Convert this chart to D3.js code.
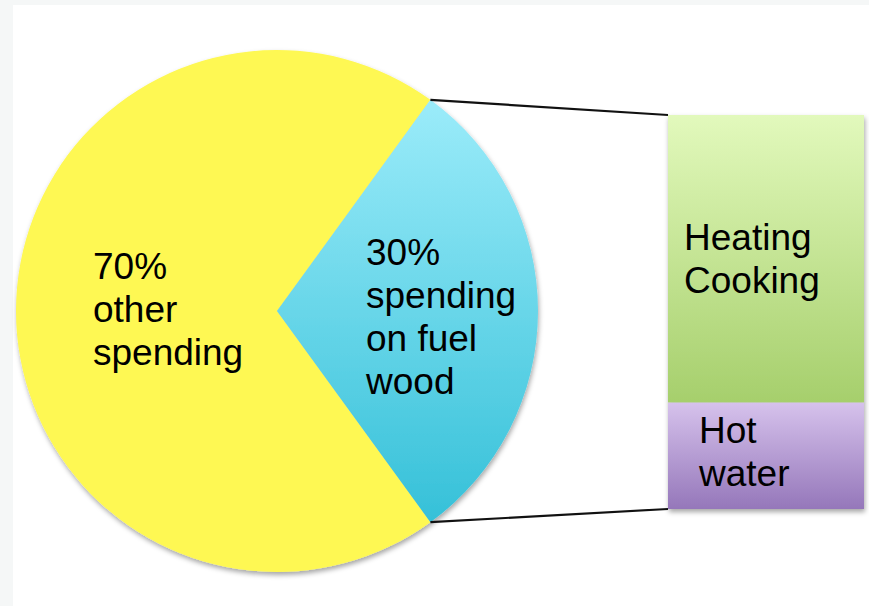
<!DOCTYPE html>
<html>
<head>
<meta charset="utf-8">
<script src="https://cdnjs.cloudflare.com/ajax/libs/d3/7.8.5/d3.min.js"></script>
<style>
html,body{margin:0;padding:0;background:#f5f7f7;}
svg{display:block;}
text{font-family:"Liberation Sans",Arial,sans-serif;fill:#000;}
</style>
</head>
<body>
<script>
// ---- data ----
const pieCategories = ["other spending", "spending on fuel wood"];
const pieValues = [70, 30];
const pieLabelLines = [["70%", "other", "spending"], ["30%", "spending", "on fuel", "wood"]];
const barCategories = ["Heating Cooking", "Hot water"];
const barValues = [73, 27];
const barLabelLines = [["Heating", "Cooking"], ["Hot", "water"]];

const W = 869, H = 606;
const svg = d3.select("body").append("svg").attr("width", W).attr("height", H);
const defs = svg.append("defs");

const cx = 277, cy = 311, R = 261;

// gradients
function vgrad(id, top, bottom) {
  const g = defs.append("linearGradient").attr("id", id).attr("x1", 0).attr("y1", 0).attr("x2", 0).attr("y2", 1);
  g.append("stop").attr("offset", "0%").attr("stop-color", top);
  g.append("stop").attr("offset", "100%").attr("stop-color", bottom);
  return g;
}
vgrad("gBlue", "#9cecfa", "#34c0d8").attr("gradientUnits", "userSpaceOnUse")
  .attr("x1", 0).attr("x2", 0).attr("y1", -215).attr("y2", 216);
vgrad("gGreen", "#e2f9bc", "#a6cf6c");
vgrad("gPurple", "#d6c2ec", "#9577ba");

const shadow = defs.append("filter").attr("id", "shadow").attr("x", "-10%").attr("y", "-10%").attr("width", "120%").attr("height", "125%");
shadow.append("feDropShadow").attr("dx", 1).attr("dy", 3).attr("stdDeviation", 2.5).attr("flood-color", "#000").attr("flood-opacity", 0.35);

// background
svg.append("rect").attr("x", 0).attr("y", 0).attr("width", W).attr("height", H).attr("fill", "#f5f7f7");
svg.append("rect").attr("x", 13).attr("y", 5).attr("width", W - 13).attr("height", H - 5).attr("fill", "#fff");

// pie
const pie = d3.pie().sort(null).value(d => d)
  .startAngle(Math.PI * 0.8).endAngle(Math.PI * 0.8 + 2 * Math.PI);
const arcs = pie(pieValues);
const arc = d3.arc().innerRadius(0).outerRadius(R);
const pieFills = ["#fef852", "url(#gBlue)"];
const pg = svg.append("g").attr("transform", `translate(${cx},${cy})`);
pg.append("g").attr("filter", "url(#shadow)")
  .selectAll("path").data(arcs).join("path")
  .attr("d", arc).attr("fill", (d, i) => pieFills[i]);

// bar
const barX = 668, barW = 196;
const y = d3.scaleLinear().domain([0, d3.sum(barValues)]).range([115, 509]);
let acc = 0;
const barData = barValues.map((v, i) => { const o = { i, y0: acc, y1: acc + v }; acc += v; return o; });
const barFills = ["url(#gGreen)", "url(#gPurple)"];
const bg = svg.append("g").attr("filter", "url(#shadow)");
bg.selectAll("rect").data(barData).join("rect")
  .attr("x", barX).attr("width", barW)
  .attr("y", d => y(d.y0)).attr("height", d => y(d.y1) - y(d.y0))
  .attr("fill", (d, i) => barFills[i]);

// connector lines from blue slice edges to bar corners
const blue = arcs[1];
const pt = a => [cx + R * Math.sin(a), cy - R * Math.cos(a)];
const pTop = pt(blue.startAngle), pBot = pt(blue.endAngle);
svg.append("line").attr("x1", pTop[0]).attr("y1", pTop[1]).attr("x2", barX).attr("y2", y(0))
  .attr("stroke", "#111").attr("stroke-width", 2.2);
svg.append("line").attr("x1", pBot[0]).attr("y1", pBot[1]).attr("x2", barX).attr("y2", y(d3.sum(barValues)))
  .attr("stroke", "#111").attr("stroke-width", 2.2);

// labels
const fs = 37, lh = 43;
function label(lines, x, y0) {
  const t = svg.append("text").attr("font-size", fs);
  lines.forEach((s, k) => t.append("tspan").attr("x", x).attr("y", y0 + k * lh).text(s));
}
label(pieLabelLines[0], 93, 279);
label(pieLabelLines[1], 366, 265);
label(barLabelLines[0], 684, 250);
label(barLabelLines[1], 699, 443);
</script>
</body>
</html>
